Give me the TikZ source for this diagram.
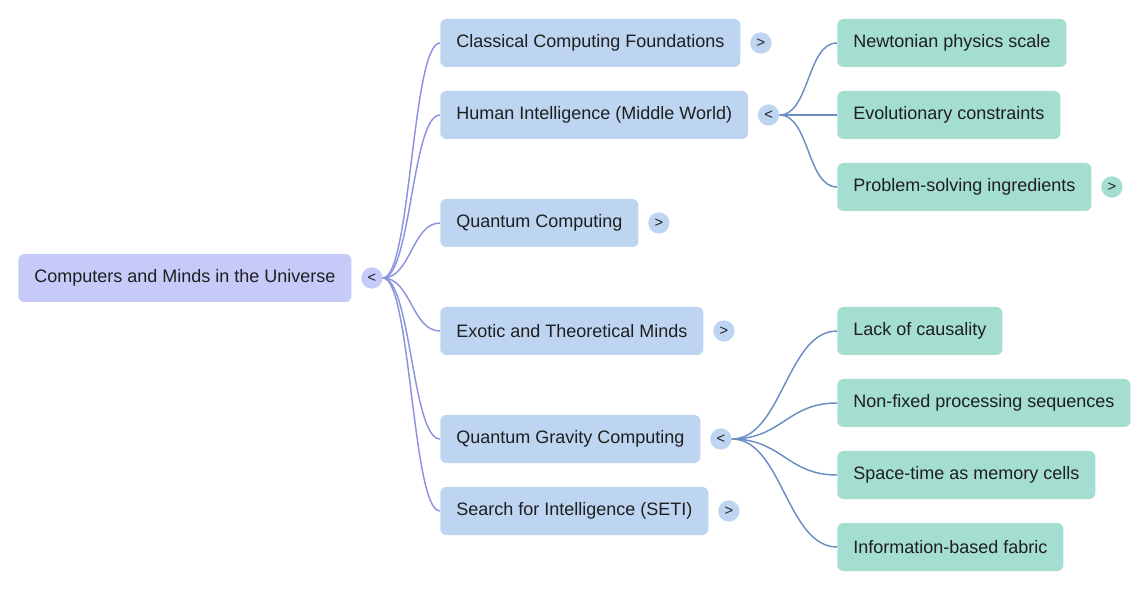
\documentclass[tikz,border=0pt]{standalone}
\usepackage{fontspec}
\setmainfont{Liberation Sans}
\usetikzlibrary{positioning}
\definecolor{rootfill}{HTML}{C5CAF9}
\definecolor{topicfill}{HTML}{BDD5F0}
\definecolor{leaffill}{HTML}{A3DED0}
\definecolor{rootline}{HTML}{8C93DF}
\definecolor{topicline}{HTML}{6A8EC3}
\definecolor{inkc}{HTML}{1F1F1F}

\begin{document}
\begin{tikzpicture}[
  x=0.75pt, y=-0.75pt,
  node distance=7pt,
  box/.style={rectangle, rounded corners=4.5pt, minimum height=36pt, inner xsep=12pt, anchor=west, text=inkc, font=\fontsize{13.5}{16}\selectfont},
  rootbox/.style={box, fill=rootfill},
  topicbox/.style={box, fill=topicfill},
  leafbox/.style={box, fill=leaffill},
  toggle/.style={circle, minimum size=16pt, inner sep=0pt, text=inkc, font=\fontsize{11}{12}\selectfont},
  rootedge/.style={draw=rootline, line width=1.1pt},
  topicedge/.style={draw=topicline, line width=1.1pt}
]
  \useasboundingbox (0,0) rectangle (1146,591);

  % root
  \node[rootbox] (root) at (18,278) {Computers and Minds in the Universe};
  \node[toggle, fill=rootfill] (rootc) [right=7pt of root] {<};

  % first level
  \node[topicbox] (classical) at (440,43) {Classical Computing Foundations};
  \node[topicbox] (human) at (440,115) {Human Intelligence (Middle World)};
  \node[topicbox] (quantum) at (440,223) {Quantum Computing};
  \node[topicbox] (exotic) at (440,331) {Exotic and Theoretical Minds};
  \node[topicbox] (qgravity) at (440,439) {Quantum Gravity Computing};
  \node[topicbox] (seti) at (440,511) {Search for Intelligence (SETI)};

  \node[toggle, fill=topicfill] (classicalc) [right=of classical] {>};
  \node[toggle, fill=topicfill] (humanc) [right=of human] {<};
  \node[toggle, fill=topicfill] (quantumc) [right=of quantum] {>};
  \node[toggle, fill=topicfill] (exoticc) [right=of exotic] {>};
  \node[toggle, fill=topicfill] (qgravityc) [right=of qgravity] {<};
  \node[toggle, fill=topicfill] (setic) [right=of seti] {>};

  % second level
  \node[leafbox] (newton) at (837,43) {Newtonian physics scale};
  \node[leafbox] (evolution) at (837,115) {Evolutionary constraints};
  \node[leafbox] (problem) at (837,187) {Problem-solving ingredients};
  \node[toggle, fill=leaffill] (problemc) [right=of problem] {>};

  \node[leafbox] (causality) at (837,331) {Lack of causality};
  \node[leafbox] (sequences) at (837,403) {Non-fixed processing sequences};
  \node[leafbox] (spacetime) at (837,475) {Space-time as memory cells};
  \node[leafbox] (fabric) at (837,547) {Information-based fabric};

  \foreach \t in {classical,human,quantum,exotic,qgravity,seti}
    \draw[rootedge] (rootc.east) .. controls +(28,0) and +(-28,0) .. (\t.west);
  \foreach \t in {newton,evolution,problem}
    \draw[topicedge] (humanc.east) .. controls +(30,0) and +(-30,0) .. (\t.west);
  \foreach \t in {causality,sequences,spacetime,fabric}
    \draw[topicedge] (qgravityc.east) .. controls +(50,0) and +(-50,0) .. (\t.west);

\end{tikzpicture}
\end{document}
